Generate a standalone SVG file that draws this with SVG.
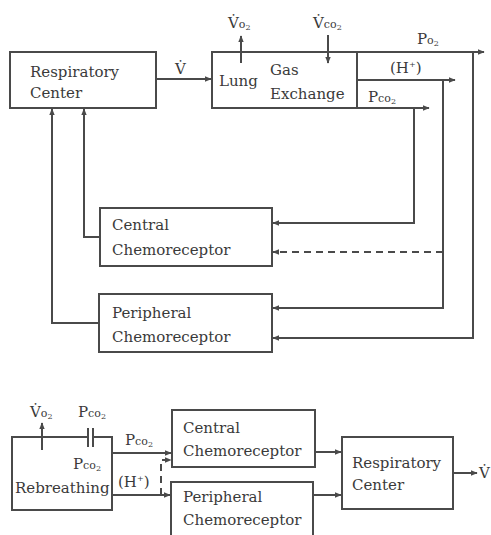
<svg xmlns="http://www.w3.org/2000/svg" width="491" height="535" viewBox="0 0 491 535">
<defs>
<marker id="ah" viewBox="0 0 10 10" refX="9" refY="5" markerWidth="7" markerHeight="7" markerUnits="userSpaceOnUse" orient="auto">
<path d="M0,1 L10,5 L0,9 z" fill="#4a4a4a"/>
</marker>
</defs>
<style>
.box{fill:#fff;stroke:#4a4a4a;stroke-width:2}
.ln{fill:none;stroke:#4a4a4a;stroke-width:2}
.dash{fill:none;stroke:#4a4a4a;stroke-width:2;stroke-dasharray:7,5}
.t{font-family:"DejaVu Serif","Liberation Serif",serif;font-size:15px;fill:#3a3a3a}
.s{font-size:11px}
.ss{font-size:8px}
</style>
<rect width="491" height="535" fill="#fff"/>

<g id="respiratory-center-top">
<rect class="box" x="10" y="52" width="146" height="56"/>
<text class="t" x="30" y="77">Respiratory</text>
<text class="t" x="30" y="98">Center</text>
</g>

<g id="lung-gas-exchange">
<rect class="box" x="212" y="52" width="145" height="56"/>
<text class="t" x="219" y="86">Lung</text>
<text class="t" x="270" y="75">Gas</text>
<text class="t" x="270" y="99">Exchange</text>
</g>

<g id="central-chemoreceptor-top">
<rect class="box" x="100" y="208" width="172" height="58"/>
<text class="t" x="112" y="230">Central</text>
<text class="t" x="112" y="255">Chemoreceptor</text>
</g>

<g id="peripheral-chemoreceptor-top">
<rect class="box" x="99" y="294" width="173" height="58"/>
<text class="t" x="112" y="318">Peripheral</text>
<text class="t" x="112" y="342">Chemoreceptor</text>
</g>

<g id="rebreathing">
<path class="box" d="M88,437 L12,437 L12,510 L112,510 L112,437 L93,437"/>
<text class="t" x="73" y="469">P<tspan class="s">co</tspan><tspan class="ss" dy="2">2</tspan></text>
<text class="t" x="15" y="493">Rebreathing</text>
</g>

<g id="central-chemoreceptor-bottom">
<rect class="box" x="172" y="410" width="143" height="57"/>
<text class="t" x="183" y="433">Central</text>
<text class="t" x="183" y="456">Chemoreceptor</text>
</g>

<g id="peripheral-chemoreceptor-bottom">
<rect class="box" x="171" y="482" width="142" height="70"/>
<text class="t" x="183" y="502">Peripheral</text>
<text class="t" x="183" y="525">Chemoreceptor</text>
</g>

<g id="respiratory-center-bottom">
<rect class="box" x="342" y="437" width="111" height="72"/>
<text class="t" x="352" y="468">Respiratory</text>
<text class="t" x="352" y="490">Center</text>
</g>

<g id="connectors">
<line class="ln" x1="156" y1="79" x2="211" y2="79" marker-end="url(#ah)"/>
<line class="ln" x1="241" y1="63" x2="241" y2="36" marker-end="url(#ah)"/>
<line class="ln" x1="328" y1="35" x2="328" y2="63" marker-end="url(#ah)"/>
<line class="ln" x1="357" y1="52" x2="484" y2="52" marker-end="url(#ah)"/>
<line class="ln" x1="357" y1="80" x2="455" y2="80" marker-end="url(#ah)"/>
<line class="ln" x1="357" y1="108" x2="429" y2="108" marker-end="url(#ah)"/>
<path class="ln" d="M414,108 L414,223 L273,223" marker-end="url(#ah)"/>
<path class="ln" d="M443,80 L443,308 L273,308" marker-end="url(#ah)"/>
<line class="dash" x1="443" y1="252" x2="273" y2="252" marker-end="url(#ah)"/>
<path class="ln" d="M473,52 L473,338 L273,338" marker-end="url(#ah)"/>
<path class="ln" d="M100,237 L84,237 L84,109" marker-end="url(#ah)"/>
<path class="ln" d="M99,323 L52,323 L52,109" marker-end="url(#ah)"/>

<line class="ln" x1="42" y1="450" x2="42" y2="423" marker-end="url(#ah)"/>
<line class="ln" x1="88" y1="428" x2="88" y2="447"/>
<line class="ln" x1="93" y1="428" x2="93" y2="447"/>
<line class="ln" x1="112" y1="453" x2="171" y2="453" marker-end="url(#ah)"/>
<line class="ln" x1="112" y1="495" x2="170" y2="495" marker-end="url(#ah)"/>
<path class="dash" d="M161,495 L161,460 L171,460" stroke-dasharray="4,3" marker-end="url(#ah)"/>
<line class="ln" x1="315" y1="452" x2="341" y2="452" marker-end="url(#ah)"/>
<line class="ln" x1="313" y1="495" x2="341" y2="495" marker-end="url(#ah)"/>
<line class="ln" x1="453" y1="473" x2="477" y2="473" marker-end="url(#ah)"/>
</g>

<g id="labels">
<text class="t" x="175" y="74">V̇</text>
<text class="t" x="228" y="28">V̇<tspan class="s">o</tspan><tspan class="ss" dy="2">2</tspan></text>
<text class="t" x="313" y="28">V̇<tspan class="s">co</tspan><tspan class="ss" dy="2">2</tspan></text>
<text class="t" x="417" y="44">P<tspan class="s">o</tspan><tspan class="ss" dy="2">2</tspan></text>
<text class="t" x="390" y="73">(H<tspan class="ss" dy="-6">+</tspan><tspan dy="6">)</tspan></text>
<text class="t" x="368" y="102">P<tspan class="s">co</tspan><tspan class="ss" dy="2">2</tspan></text>

<text class="t" x="30" y="417">V̇<tspan class="s">o</tspan><tspan class="ss" dy="2">2</tspan></text>
<text class="t" x="78" y="417">P<tspan class="s">co</tspan><tspan class="ss" dy="2">2</tspan></text>
<text class="t" x="125" y="445">P<tspan class="s">co</tspan><tspan class="ss" dy="2">2</tspan></text>
<text class="t" x="118" y="487">(H<tspan class="ss" dy="-6">+</tspan><tspan dy="6">)</tspan></text>
<text class="t" x="479" y="478">V̇</text>
</g>
</svg>
